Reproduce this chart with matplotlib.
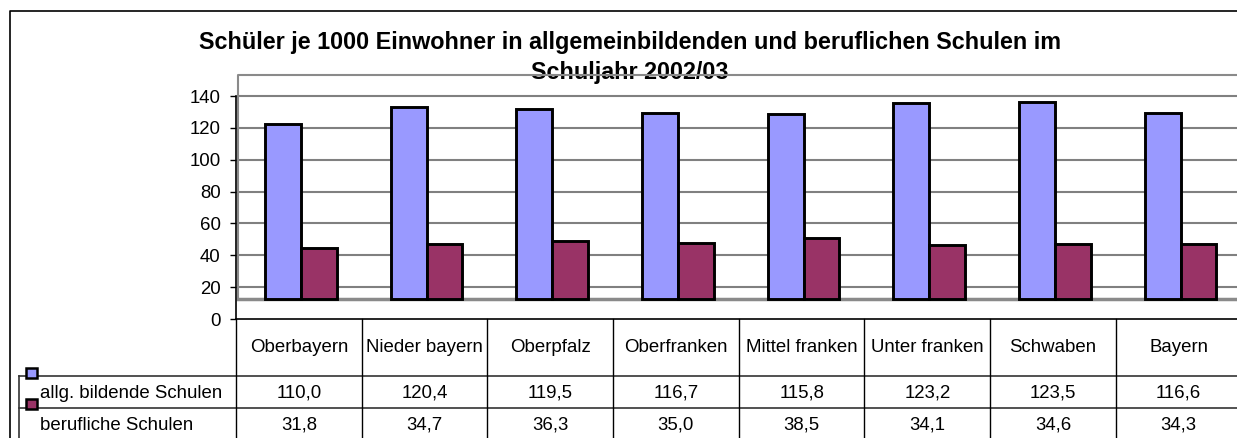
import numpy as np
import matplotlib
matplotlib.use("Agg")
import matplotlib.pyplot as plt
from matplotlib.patches import Rectangle
from matplotlib.transforms import blended_transform_factory

plt.rcParams['font.family'] = ['Liberation Sans', 'DejaVu Sans']

regions = ["Oberbayern", "Nieder bayern", "Oberpfalz", "Oberfranken",
           "Mittel franken", "Unter franken", "Schwaben", "Bayern"]
allg = [110.0, 120.4, 119.5, 116.7, 115.8, 123.2, 123.5, 116.6]
beruf = [31.8, 34.7, 36.3, 35.0, 38.5, 34.1, 34.6, 34.3]
series = ["allg. bildende Schulen", "berufliche Schulen"]
colors = ["#9999FF", "#993366"]
yticks = [0, 20, 40, 60, 80, 100, 120, 140]
title = ["Schüler je 1000 Einwohner in allgemeinbildenden und beruflichen Schulen im",
         "Schuljahr 2002/03"]

W, H = 1237, 438
floor = 12.6   # 3d floor offset of the excel chart
fs = 13.4

fig = plt.figure(figsize=(W / 100, H / 100), dpi=100)

# pixel overlay for frame, table lines and legend keys
over = fig.add_axes([0, 0, 1, 1])
over.set_xlim(0, W)
over.set_ylim(H, 0)
over.axis('off')


def box(l, t, r, b):
    return [l / W, 1 - b / H, (r - l) / W, (b - t) / H]


ax = fig.add_axes(box(236, 75, 1241.5, 319))
ax.patch.set_visible(False)
ax.set_xlim(0, 8)
ax.set_ylim(0, 153.2)

# back wall + gridlines
for v in yticks[1:]:
    ax.plot([0.016, 8], [v, v], color='#808080', lw=1.5, zorder=1)
ax.plot([0.016, 0.016, 8], [floor, 153.2, 153.2], color='#8a8a8a', lw=1.5,
        clip_on=False, zorder=1)
ax.plot([0.016, 8], [floor, floor], color='#8a8a8a', lw=2.5, zorder=1)
ax.plot([0, 8], [0, 0], color='black', lw=1.2, clip_on=False, zorder=3)

x = np.arange(len(regions))
ax.bar(x + 0.231, allg, width=0.286, bottom=floor, align='edge',
       color=colors[0], edgecolor='black', lw=2.1, zorder=2)
ax.bar(x + 0.517, beruf, width=0.283, bottom=floor, align='edge',
       color=colors[1], edgecolor='black', lw=2.1, zorder=2)

for s in ['top', 'right', 'bottom']:
    ax.spines[s].set_visible(False)
ax.spines['left'].set_bounds(0, 140)
ax.spines['left'].set_linewidth(1.2)
ax.set_xticks([])
ax.set_yticks(yticks)
ax.tick_params(axis='y', length=4.3, width=1, pad=6.7, labelsize=fs)

# title
over.text(630, 42, title[0], ha='center', va='center', fontsize=16.8, fontweight='bold')
over.text(630, 72, title[1], ha='center', va='center', fontsize=16.8, fontweight='bold')

# outer frame
over.plot([9.5, 9.5, W], [H, 11, 11], color='black', lw=1.2)

# data table
trans = blended_transform_factory(ax.transData, over.transData)
for i in range(len(regions)):
    ax.plot([i, i], [319, H], color='black', lw=1, transform=trans, clip_on=False)
    ax.text(i + 0.5, 348, regions[i], transform=trans, ha='center', va='center', fontsize=fs)
    ax.text(i + 0.5, 393, f"{allg[i]:.1f}".replace('.', ','), transform=trans,
            ha='center', va='center', fontsize=fs)
    ax.text(i + 0.5, 425, f"{beruf[i]:.1f}".replace('.', ','), transform=trans,
            ha='center', va='center', fontsize=fs)

over.plot([19, W], [376, 376], color='#333333', lw=1.2)
over.plot([19, W], [408, 408], color='#333333', lw=1.2)
over.plot([19, 19], [376, H], color='#333333', lw=1.2)

over.add_patch(Rectangle((26, 368), 11, 10, fc=colors[0], ec='black', lw=1.8, zorder=5))
over.add_patch(Rectangle((26, 399), 11, 10, fc=colors[1], ec='black', lw=1.8, zorder=5))
over.text(40, 393, series[0], ha='left', va='center', fontsize=fs)
over.text(40, 425, series[1], ha='left', va='center', fontsize=fs)

fig.savefig("out.png", dpi=100)
